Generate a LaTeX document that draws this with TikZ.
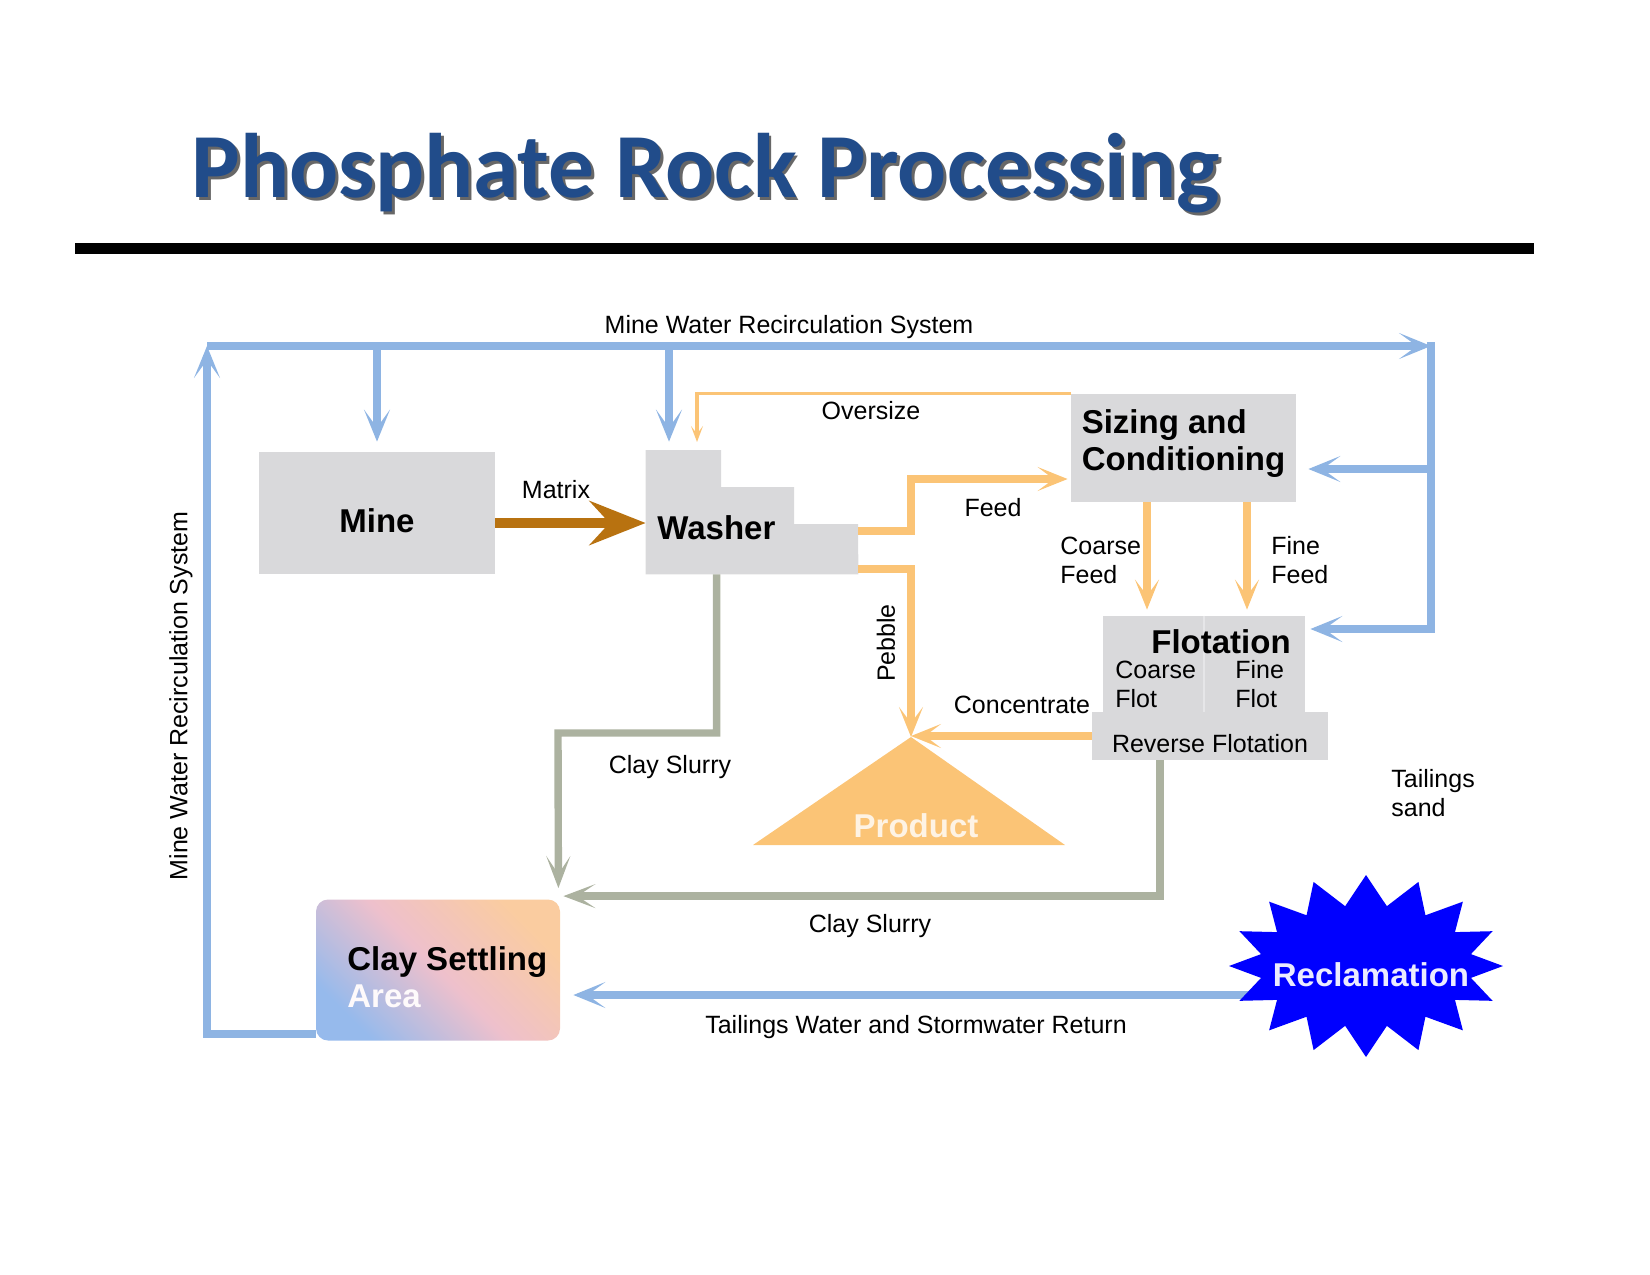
\documentclass[tikz,border=0pt]{standalone}
\usepackage{fontspec}
\setmainfont{Liberation Sans}
\newfontfamily\titlefont{Carlito}
\usetikzlibrary{arrows.meta,shapes.symbols,backgrounds,positioning}

\definecolor{waterblue}{RGB}{142,180,227}
\definecolor{feedorange}{RGB}{251,196,118}
\definecolor{matrixbrown}{RGB}{184,114,16}
\definecolor{slurrygray}{RGB}{172,178,160}
\definecolor{boxgray}{RGB}{217,217,219}
\definecolor{titleblue}{RGB}{33,76,138}
\definecolor{claytop}{RGB}{250,204,160}
\definecolor{claymid}{RGB}{238,192,204}
\definecolor{claybottom}{RGB}{150,186,236}

\begin{document}
\begin{tikzpicture}[
    x=0.5pt, y=-0.5pt,
    every node/.style={font=\fontsize{12.5}{14.5}\selectfont, inner sep=1pt},
    bold/.style={font=\fontsize{16.5}{18.5}\selectfont\bfseries},
    box/.style={fill=boxgray, inner sep=0pt, bold, align=left},
    lbl/.style={align=left},
    water/.style={draw=waterblue, line width=4pt},
    waterarr/.style={water, -{Stealth[length=16pt,width=13pt,inset=9pt]}},
    feed/.style={draw=feedorange, line width=3.7pt, -{Stealth[length=15pt,width=12pt,inset=8pt]}},
    slurry/.style={draw=slurrygray, line width=3.7pt, -{Stealth[length=16pt,width=12pt,inset=9pt]}}
  ]
  \useasboundingbox (0,0) rectangle (1650,1275);

  % Title
  \node[anchor=base west, text=black!85, opacity=0.7, font=\titlefont\fontsize{45.8}{50}\selectfont\bfseries] (titleshadow) at (192,200) {Phosphate Rock Processing};
  \node[anchor=base west, text=titleblue, font=\titlefont\fontsize{45.8}{50}\selectfont\bfseries] (title) at (189,197) {Phosphate Rock Processing};
  \draw[line width=5.5pt] (75,248) -- (1534,248);

  % Process boxes
  \node[box, minimum width=118pt, minimum height=61pt, text height=20pt] (mine) at (377,513) {Mine};
  \node[minimum width=106pt, minimum height=62pt, inner sep=0pt] (washer) at (752,512) {};
  \fill[boxgray] (washer.south west) |- (721,450) |- (794,487) |- (858,524) -- (washer.south east) -- cycle;
  \node[box, anchor=west] (washertxt) at (657,528) {Washer};
  \node[box, minimum width=112.5pt, minimum height=54pt, text depth=7.5pt] (sizing) at (1183.5,448) {Sizing and\\Conditioning};
  \node[box, minimum width=101pt, minimum height=48pt] (flot) at (1204,664) {};
  \draw[white!35!boxgray, line width=0.8pt] (flot.north) -- (flot.south);
  \node[bold] (flottitle) at (1221,642) {Flotation};
  \node[lbl, anchor=west] (coarseflot) at (1113,684) {Coarse\\Flot};
  \node[lbl, anchor=west] (fineflot) at (1233,684) {Fine\\Flot};
  \node[box, font=\fontsize{12.5}{14.5}\selectfont, minimum width=118pt, minimum height=24pt, text height=16pt, text depth=0pt, align=center] (rev) at (1210,736) {Reverse Flotation};

  % Clay settling area
  \node[rounded corners=6pt, minimum width=122pt, minimum height=70.5pt,
        top color=claytop, bottom color=claybottom, middle color=claymid, shading angle=-45] (clay) at (438,970) {};
  \node[bold, lbl, anchor=west] (claytxt) at (345,977) {Clay Settling\\\textcolor{white!92!claymid}{Area}};

  % Product pile
  \coordinate (apex) at (911,737);
  \fill[feedorange] (753,845) -- (apex) -- (1065,845) -- cycle;
  \node[bold, text=white!80!feedorange] (product) at (916,826) {Product};

  % Reclamation
  \node[starburst, random starburst=0, starburst points=16, starburst point height=15pt, fill=blue, minimum width=137pt, minimum height=91pt, inner sep=0pt] (recl) at (1366,966) {};
  \node[bold, text=white!92!blue] (recltxt) at (1371,975) {Reclamation};

  % Mine water recirculation
  \coordinate (wtl) at (207,346);
  \coordinate (wtr) at (1431,346);
  \draw[waterarr] (clay.south west) ++(0,-7) -| (wtl);
  \draw[waterarr] (wtl) -- (wtr);
  \draw[water] (wtr) ++(0,-4) -- (1431,633);
  \draw[waterarr, shorten >=6pt] (1431,469) -- (sizing.east |- 0,469);
  \draw[waterarr, shorten >=2.5pt] (1431,629) -- (flot.east |- 0,629);
  \draw[waterarr, shorten >=5pt] (mine.north |- wtl) -- (mine.north);
  \draw[waterarr, shorten >=4pt] (wtl -| 669,0) -- (washer.north west -| 669,0);
  \begin{pgfonlayer}{background}
    \draw[waterarr, shorten >=6.5pt] (recl.center |- 0,995) -- (clay.east |- 0,995);
  \end{pgfonlayer}

  % Ore flow
  \draw[draw=matrixbrown, line width=5pt, -{Stealth[length=28pt,width=22pt,inset=10pt]}] (mine.east |- 0,523) -- (washer.west |- 0,523);
  \draw[draw=feedorange, line width=1.6pt, -{Stealth[length=8pt,width=6pt,inset=4pt]}] (sizing.north west) -| (697,442);
  \draw[feed, shorten >=1.5pt] (washer.east |- 0,531) -| (911,479) -- (sizing.west |- 0,479);
  \draw[feed] (washer.east |- 0,569) -| (apex);
  \draw[feed] (rev.west) -- (rev.west -| apex);
  \draw[feed, shorten >=3pt] (sizing.south -| 1147,0) -- (flot.north -| 1147,0);
  \draw[feed, shorten >=3pt] (sizing.south -| 1247,0) -- (flot.north -| 1247,0);

  % Clay slurry
  \draw[slurry] (washer.south west) ++(71,0) |- (558,733) -- ([xshift=-1pt,yshift=5.5pt]clay.north east);
  \draw[slurry] (rev.south -| 1160,0) |- ([xshift=1.5pt,yshift=1.5pt]clay.north east);

  % Labels
  \node (topwater) at (789,327) {Mine Water Recirculation System};
  \node[rotate=90] (leftwater) at (181,696) {Mine Water Recirculation System};
  \node (oversize) at (871,411) {Oversize};
  \node (matrixlbl) at (556,490) {Matrix};
  \node (feedlbl) at (993,508) {Feed};
  \node[lbl, anchor=west] (coarsefeed) at (1058,560) {Coarse\\Feed};
  \node[lbl, anchor=west] (finefeed) at (1269,560) {Fine\\Feed};
  \node[rotate=90] (pebble) at (886,643) {Pebble};
  \node (concentrate) at (1022,705) {Concentrate};
  \node (slurrylbla) at (670,767) {Clay Slurry};
  \node (slurrylblb) at (870,926) {Clay Slurry};
  \node (tailwater) at (916,1027) {Tailings Water and Stormwater Return};
  \node[lbl, anchor=west] (tailsand) at (1389,793) {Tailings\\sand};
\end{tikzpicture}
\end{document}
